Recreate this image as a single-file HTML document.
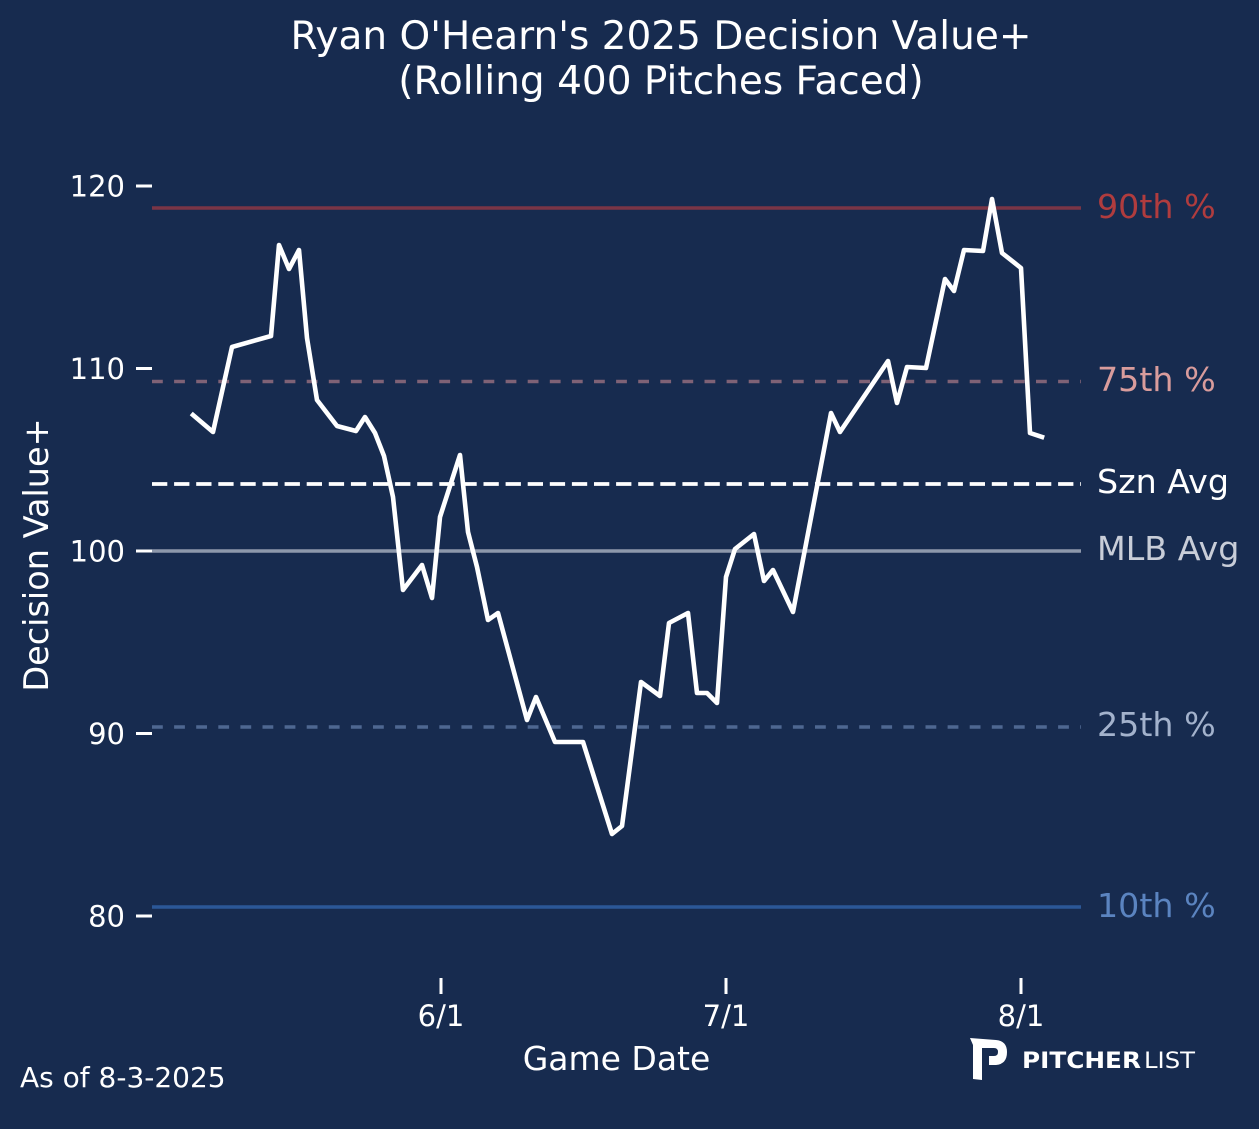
<!DOCTYPE html>
<html>
<head>
<meta charset="utf-8">
<style>
  html, body { margin: 0; padding: 0; background: #172b4f; }
  svg { display: block; }
  text { font-family: "DejaVu Sans", "Liberation Sans", sans-serif; }
</style>
</head>
<body>
<svg width="1259" height="1129" viewBox="0 0 1259 1129" xmlns="http://www.w3.org/2000/svg">
  <rect x="0" y="0" width="1259" height="1129" fill="#172b4f"/>

  <!-- Title -->
  <text x="661" y="49" font-size="39" fill="#ffffff" text-anchor="middle">Ryan O'Hearn's 2025 Decision Value+</text>
  <text x="661" y="94" font-size="39" fill="#ffffff" text-anchor="middle">(Rolling 400 Pitches Faced)</text>

  <!-- Reference lines -->
  <line x1="152" y1="208" x2="1081" y2="208" stroke="#7a3546" stroke-width="3.6"/>
  <line x1="152" y1="381.5" x2="1081" y2="381.5" stroke="#7f6276" stroke-width="3.6" stroke-dasharray="10.8 11.3"/>
  <line x1="152" y1="484" x2="1081" y2="484" stroke="#ffffff" stroke-width="3.8" stroke-dasharray="15.3 6.8"/>
  <line x1="152" y1="551" x2="1081" y2="551" stroke="#8d98ab" stroke-width="3.6"/>
  <line x1="152" y1="727" x2="1081" y2="727" stroke="#4e6791" stroke-width="3.6" stroke-dasharray="10.8 11.3"/>
  <line x1="152" y1="907" x2="1081" y2="907" stroke="#2b5797" stroke-width="3.6"/>

  <!-- Right labels -->
  <text x="1097" y="218" font-size="33.3" fill="#b03c3e">90th %</text>
  <text x="1097" y="391" font-size="33.3" fill="#d99c9c">75th %</text>
  <text x="1097" y="493" font-size="33.3" fill="#ffffff">Szn Avg</text>
  <text x="1097" y="560" font-size="33.3" fill="#c8cdd8">MLB Avg</text>
  <text x="1097" y="736" font-size="33.3" fill="#a3b2cc">25th %</text>
  <text x="1097" y="917" font-size="33.3" fill="#5b84c0">10th %</text>

  <!-- Y ticks -->
  <g stroke="#ffffff" stroke-width="3">
    <line x1="136" y1="186" x2="152" y2="186"/>
    <line x1="136" y1="368.5" x2="152" y2="368.5"/>
    <line x1="136" y1="551" x2="152" y2="551"/>
    <line x1="136" y1="733.5" x2="152" y2="733.5"/>
    <line x1="136" y1="916" x2="152" y2="916"/>
  </g>
  <g font-size="29" fill="#ffffff" text-anchor="end">
    <text x="125" y="196.5">120</text>
    <text x="125" y="379">110</text>
    <text x="125" y="561.5">100</text>
    <text x="125" y="744">90</text>
    <text x="125" y="926.5">80</text>
  </g>

  <!-- X ticks -->
  <g stroke="#ffffff" stroke-width="3">
    <line x1="441" y1="978" x2="441" y2="994"/>
    <line x1="726" y1="978" x2="726" y2="994"/>
    <line x1="1021" y1="978" x2="1021" y2="994"/>
  </g>
  <g font-size="29" fill="#ffffff" text-anchor="middle">
    <text x="441" y="1026">6/1</text>
    <text x="726" y="1026">7/1</text>
    <text x="1021" y="1026">8/1</text>
  </g>

  <!-- Axis labels -->
  <text x="616.5" y="1070" font-size="33" fill="#ffffff" text-anchor="middle">Game Date</text>
  <text x="0" y="0" font-size="33.5" fill="#ffffff" text-anchor="middle" transform="translate(48,555) rotate(-90)">Decision Value+</text>

  <!-- Data line -->
  <polyline fill="none" stroke="#ffffff" stroke-width="4.6" stroke-linejoin="round" stroke-linecap="square"
    points="193,415 213,432 232,347 271,336 279,245 289,269 299,250 307,338 317,400 337,426 356,431 365,417 375,433 384,456 393,497 403,590 422,565 432,598 440,517 460,455 468,532 477,567 488,620 498,613 527,720 536,697 555,742 583,742 612,834 622,826 641,682 660,696 669,623 688,613 697,693 707,693 717,703 726,577 735,549 754,534 764,581 773,570 793,612 831,413 840,432 888,361 897,403 907,367 926,368 945,279 954,291 964,250 983,251 992,199 1002,253 1021,268 1030,433 1042,437"/>

  <!-- Footer -->
  <text x="20" y="1087" font-size="28" fill="#ffffff">As of 8-3-2025</text>

  <!-- Pitcher List logo -->
  <path d="M970,1038 L996,1040 Q1007,1041 1007,1052 Q1007,1064 996,1065 L989,1065 L989,1056 L994,1056 Q998,1056 998,1052 Q998,1048 994,1048 L982,1048 L982,1080 L973,1079 L973,1045 Z" fill="#ffffff"/>
  <text x="1022" y="1068" font-size="22" font-weight="bold" fill="#ffffff" font-family="Liberation Sans, sans-serif" textLength="119" lengthAdjust="spacingAndGlyphs">PITCHER</text>
  <text x="1144" y="1068" font-size="22" fill="#ffffff" font-family="Liberation Sans, sans-serif" textLength="51" lengthAdjust="spacingAndGlyphs">LIST</text>
</svg>
</body>
</html>
